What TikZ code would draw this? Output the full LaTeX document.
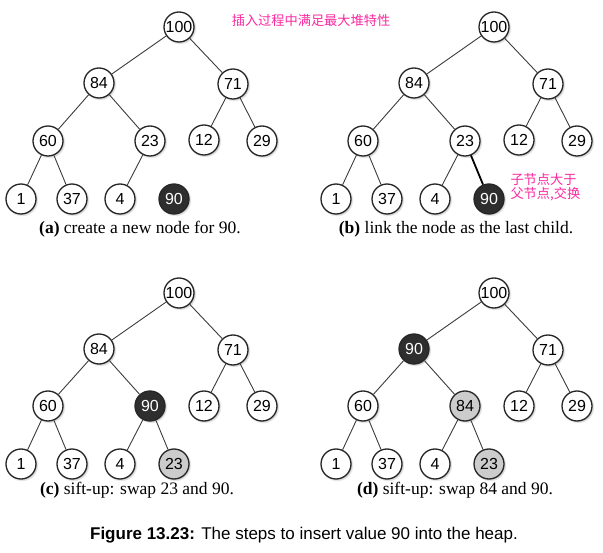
\documentclass[tikz,border=0pt]{standalone}
\usepackage{fontspec}
\setmainfont{Liberation Serif}
\setsansfont{Liberation Sans}
\newfontfamily\cjk{Noto Sans CJK SC}
\usetikzlibrary{shadows}
\definecolor{pinkc}{RGB}{250,40,160}
\definecolor{edgec}{RGB}{60,60,60}
\tikzset{
  hn/.style={circle, draw=black!85, line width=1.3pt, fill=white, minimum size=30pt, inner sep=0pt,
    font=\sffamily\fontsize{16}{16}\selectfont, circular drop shadow={shadow xshift=0.9pt, shadow yshift=-0.9pt, opacity=0.35}},
  hblack/.style={hn, fill=black!82, text=white},
  hgray/.style={hn, fill=black!20},
  ed/.style={draw=edgec, line width=0.9pt},
  edb/.style={draw=black, line width=1.8pt},
  subcap/.style={font=\fontsize{17.5}{18}\selectfont},
  pinktxt/.style={text=pinkc, font=\cjk\fontsize{13.2}{14}\selectfont}
}
\begin{document}
\begin{tikzpicture}[x=1pt,y=-1pt]
\useasboundingbox (0,0) rectangle (603,553);
% ---------- (a)
\node[hn] (a100) at (179,27) {100};
\node[hn] (a84) at (99,83) {84};
\node[hn] (a71) at (233,84) {71};
\node[hn] (a60) at (48,141) {60};
\node[hn] (a23) at (150,141) {23};
\node[hn] (a12) at (204,140) {12};
\node[hn] (a29) at (262,141) {29};
\node[hn] (a1) at (21,199) {1};
\node[hn] (a37) at (72,199) {37};
\node[hn] (a4) at (120,199) {4};
\node[hblack] (a90) at (174,199) {90};
\draw[ed] (a100)--(a84) (a100)--(a71) (a84)--(a60) (a84)--(a23) (a71)--(a12) (a71)--(a29)
  (a60)--(a1) (a60)--(a37) (a23)--(a4);
\node[subcap] (acap) at (140,229) {\textbf{(a)} create a new node for 90.};
% ---------- (b)
\node[hn] (b100) at (494,27) {100};
\node[hn] (b84) at (414,83) {84};
\node[hn] (b71) at (548,84) {71};
\node[hn] (b60) at (363,141) {60};
\node[hn] (b23) at (465,141) {23};
\node[hn] (b12) at (519,140) {12};
\node[hn] (b29) at (577,141) {29};
\node[hn] (b1) at (336,199) {1};
\node[hn] (b37) at (387,199) {37};
\node[hn] (b4) at (435,199) {4};
\node[hblack] (b90) at (489,199) {90};
\draw[ed] (b100)--(b84) (b100)--(b71) (b84)--(b60) (b84)--(b23) (b71)--(b12) (b71)--(b29)
  (b60)--(b1) (b60)--(b37) (b23)--(b4);
\draw[edb] (b23)--(b90);
\node[subcap] (bcap) at (456,229) {\textbf{(b)} link the node as the last child.};
% ---------- (c)
\node[hn] (c100) at (179,293) {100};
\node[hn] (c84) at (99,349) {84};
\node[hn] (c71) at (233,350) {71};
\node[hn] (c60) at (48,406) {60};
\node[hblack] (c90) at (150,406) {90};
\node[hn] (c12) at (204,406) {12};
\node[hn] (c29) at (262,406) {29};
\node[hn] (c1) at (21,464) {1};
\node[hn] (c37) at (72,464) {37};
\node[hn] (c4) at (120,464) {4};
\node[hgray] (c23) at (174,464) {23};
\draw[ed] (c100)--(c84) (c100)--(c71) (c84)--(c60) (c84)--(c90) (c71)--(c12) (c71)--(c29)
  (c60)--(c1) (c60)--(c37) (c90)--(c4) (c90)--(c23);
\node[subcap] (ccap) at (137,490) {\textbf{(c)} sift-up: swap 23 and 90.};
% ---------- (d)
\node[hn] (d100) at (494,293) {100};
\node[hblack] (d90) at (414,349) {90};
\node[hn] (d71) at (548,350) {71};
\node[hn] (d60) at (363,406) {60};
\node[hgray] (d84) at (465,406) {84};
\node[hn] (d12) at (519,406) {12};
\node[hn] (d29) at (577,406) {29};
\node[hn] (d1) at (336,464) {1};
\node[hn] (d37) at (387,464) {37};
\node[hn] (d4) at (435,464) {4};
\node[hgray] (d23) at (489,464) {23};
\draw[ed] (d100)--(d90) (d100)--(d71) (d90)--(d60) (d90)--(d84) (d71)--(d12) (d71)--(d29)
  (d60)--(d1) (d60)--(d37) (d84)--(d4) (d84)--(d23);
\node[subcap] (dcap) at (455,490) {\textbf{(d)} sift-up: swap 84 and 90.};
% ---------- annotations
\node[pinktxt] (title) at (311,20) {插入过程中满足最大堆特性};
\node[pinktxt, anchor=west, align=left] (note) at (507,187) {子节点大于\\父节点,交换};
\node[font=\sffamily\fontsize{17}{18}\selectfont] (fig) at (304,535) {\textbf{Figure 13.23:} The steps to insert value 90 into the heap.};
\end{tikzpicture}
\end{document}
